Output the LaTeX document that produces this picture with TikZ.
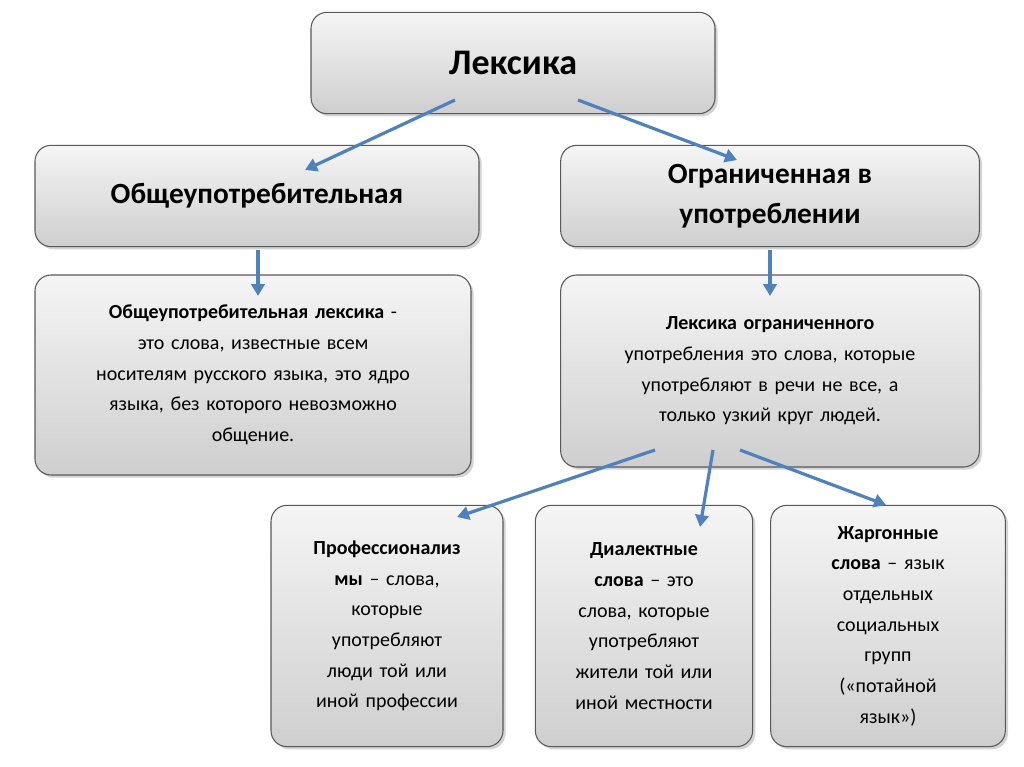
\documentclass[tikz,border=0pt]{standalone}
\usepackage{fontspec}
\setmainfont{Carlito}
\usetikzlibrary{positioning,arrows.meta,shadows}
\tikzset{
box/.style={
  draw=gray!70!black, rounded corners=12pt, line width=0.8pt,
  top color=gray!8, bottom color=gray!38,
  drop shadow={shadow xshift=2pt, shadow yshift=-2pt, opacity=0.35},
  align=center, text=black, inner sep=4pt
  },
conn/.style={-{Triangle[length=9pt,width=10pt]}, line width=2.4pt,
  draw={rgb,255:red,79;green,129;blue,189}}
}
\begin{document}
\begin{tikzpicture}[x=0.75pt,y=-0.75pt]
\useasboundingbox (0,0) rectangle (1024,767);

\node[box, minimum width=303pt, minimum height=76pt, font=\fontsize{27}{32}\selectfont\bfseries]
  (lex) at (513,63) {Лексика};
\node[box, minimum width=333pt, minimum height=76pt, font=\fontsize{22}{30}\selectfont\bfseries]
  (common) at (257,196) {Общеупотребительная};
\node[box, minimum width=314pt, minimum height=76pt, font=\fontsize{22}{30}\selectfont\bfseries]
  (restr) at (770,196) {Ограниченная в\\употреблении};

\node[box, minimum width=327pt, minimum height=150pt, text width=300pt, font=\fontsize{15}{23}\selectfont]
  (commondef) at (253,375) {\textbf{Общеупотребительная лексика} -\\это слова, известные всем\\носителям русского языка, это ядро\\языка, без которого невозможно\\общение.};
\node[box, minimum width=314pt, minimum height=144pt, text width=300pt, font=\fontsize{15}{23}\selectfont]
  (restrdef) at (770,371) {\textbf{Лексика ограниченного}\\употребления это слова, которые\\употребляют в речи не все, а\\только узкий круг людей.};

\node[box, minimum width=174pt, minimum height=181pt, text width=165pt, font=\fontsize{15}{23}\selectfont]
  (prof) at (387,626) {\textbf{Профессионализ}\\\textbf{мы} – слова,\\которые\\употребляют\\люди той или\\иной профессии};
\node[box, minimum width=163pt, minimum height=181pt, text width=155pt, font=\fontsize{15}{23}\selectfont]
  (dial) at (644,626) {\textbf{Диалектные}\\\textbf{слова} – это\\слова, которые\\употребляют\\жители той или\\иной местности};
\node[box, minimum width=176pt, minimum height=181pt, text width=165pt, font=\fontsize{15}{23}\selectfont]
  (jarg) at (888,626) {\textbf{Жаргонные}\\\textbf{слова} – язык\\отдельных\\социальных\\групп\\(«потайной\\язык»)};

% arrow ends
\coordinate (a1s) at (455,100); \coordinate (a1e) at (305,170);
\coordinate (a2s) at (578,100); \coordinate (a2e) at (737,160);
\coordinate (a3s) at (258,250); \coordinate (a3e) at (258,296);
\coordinate (a4s) at (770,250); \coordinate (a4e) at (770,296);
\coordinate (a5s) at (655,450); \coordinate (a5e) at (457,517);
\coordinate (a6s) at (713,450); \coordinate (a6e) at (700,527);
\coordinate (a7s) at (740,450); \coordinate (a7e) at (886,505);

\draw[conn] (a1s) -- (a1e);
\draw[conn] (a2s) -- (a2e);
\draw[conn] (a3s) -- (a3e);
\draw[conn] (a4s) -- (a4e);
\draw[conn] (a5s) -- (a5e);
\draw[conn] (a6s) -- (a6e);
\draw[conn] (a7s) -- (a7e);
\end{tikzpicture}
\end{document}
